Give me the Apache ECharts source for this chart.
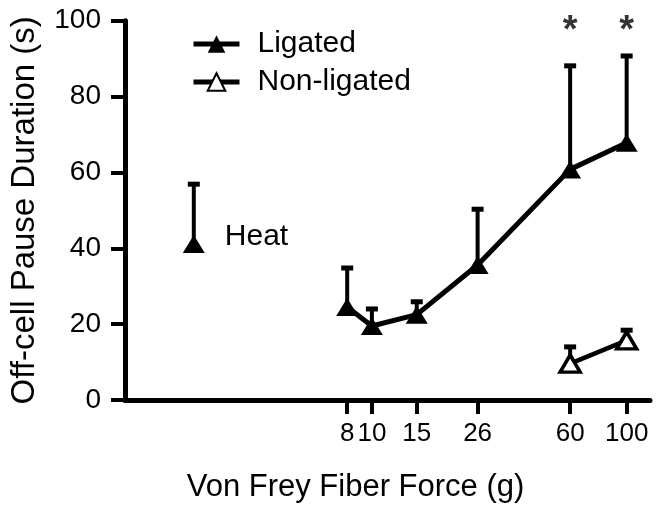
<!DOCTYPE html>
<html>
<head>
<meta charset="utf-8">
<script src="https://cdn.jsdelivr.net/npm/echarts@6/dist/echarts.min.js"></script>
<style>
  html, body { margin: 0; padding: 0; background: #fff; }
  #chart { width: 656px; height: 508px; }
</style>
</head>
<body>
<div id="chart"></div>
<script>
// force of the fiber (g), x axis is logarithmic
var forceTicks = [8, 10, 15, 26, 60, 100];

// ligated group: mean and upper end of the error bar
var ligForce = [8, 10, 15, 26, 60, 100];
var ligMean = [24.5, 19.5, 22.5, 35.6, 60.8, 67.8];
var ligTop = [34.8, 24.0, 25.9, 50.3, 88.1, 90.7];

// non-ligated group
var nonForce = [60, 100];
var nonMean = [9.6, 15.7];
var nonTop = [14.0, 18.4];

// heat response, drawn off to the left
var heatForce = [2];
var heatMean = [41.1];
var heatTop = [56.9];

// significance marks
var starForce = [60, 100];
var starY = [98, 98];

var yTicks = [0, 20, 40, 60, 80, 100];

var FONT = "'Liberation Sans', Arial, Helvetica, sans-serif";

function lg(v) { return Math.log(v) / Math.LN10; }

function pts(xs, ys) {
  return xs.map(function (x, i) { return [lg(x), ys[i]]; });
}
function errPts(xs, ys, tops) {
  return xs.map(function (x, i) { return [lg(x), ys[i], tops[i]]; });
}

// vertical error bar with a cap, only the upper half like the original
function renderErr(params, api) {
  var p = api.coord([api.value(0), api.value(1)]);
  var t = api.coord([api.value(0), api.value(2)]);
  return {
    type: 'group',
    children: [
      { type: 'line', shape: { x1: p[0], y1: p[1], x2: t[0], y2: t[1] },
        style: { stroke: '#000', lineWidth: 4 } },
      { type: 'line', shape: { x1: t[0] - 6, y1: t[1], x2: t[0] + 6, y2: t[1] },
        style: { stroke: '#000', lineWidth: 5 } }
    ]
  };
}

var chart = echarts.init(document.getElementById('chart'));

chart.setOption({
  animation: false,
  backgroundColor: '#fff',
  textStyle: { fontFamily: FONT, color: '#000' },
  grid: { left: 124, right: 6, top: 20.7, bottom: 106.3, containLabel: false },
  legend: {
    orient: 'vertical',
    left: 186,
    top: 22,
    itemWidth: 46,
    itemHeight: 22,
    itemGap: 4,
    data: ['Ligated', 'Non-ligated'],
    lineStyle: { width: 5 },
    textStyle: { fontSize: 30, color: '#000', fontFamily: FONT, lineHeight: 34, padding: [0, 0, 0, 13] }
  },
  xAxis: {
    type: 'value',
    min: 0.031,
    max: 2.0916,
    name: 'Von Frey Fiber Force (g)',
    nameLocation: 'middle',
    nameGap: 72,
    nameTextStyle: { fontSize: 31, color: '#000', fontFamily: FONT, padding: [0, 64, 0, 0] },
    splitLine: { show: false },
    axisLine: { lineStyle: { color: '#000', width: 5 } },
    axisTick: {
      length: 14,
      lineStyle: { color: '#000', width: 4 },
      customValues: forceTicks.map(lg)
    },
    axisLabel: {
      fontSize: 26,
      color: '#000',
      margin: 21,
      customValues: forceTicks.map(lg),
      formatter: function (v) { return String(Math.round(Math.pow(10, v))); }
    }
  },
  yAxis: {
    type: 'value',
    min: 0,
    max: 100,
    interval: 20,
    name: 'Off-cell Pause Duration (s)',
    nameLocation: 'middle',
    nameGap: 84,
    nameTextStyle: { fontSize: 33, color: '#000', fontFamily: FONT },
    splitLine: { show: false },
    axisLine: { show: true, lineStyle: { color: '#000', width: 5 } },
    axisTick: { show: true, length: 14, lineStyle: { color: '#000', width: 4 } },
    axisLabel: { fontSize: 28, color: '#000', margin: 24 }
  },
  series: [
    {
      type: 'custom',
      name: 'errLig',
      renderItem: renderErr,
      data: errPts(ligForce, ligMean, ligTop),
      z: 1
    },
    {
      type: 'custom',
      name: 'errNon',
      renderItem: renderErr,
      data: errPts(nonForce, nonMean, nonTop),
      z: 1
    },
    {
      type: 'custom',
      name: 'errHeat',
      renderItem: renderErr,
      data: errPts(heatForce, heatMean, heatTop),
      z: 1
    },
    {
      type: 'line',
      name: 'Ligated',
      data: pts(ligForce, ligMean),
      symbol: 'triangle',
      symbolSize: [22, 18],
      lineStyle: { color: '#000', width: 5 },
      itemStyle: { color: '#000', borderColor: '#000', borderWidth: 0 },
      z: 3
    },
    {
      type: 'line',
      name: 'Non-ligated',
      data: pts(nonForce, nonMean),
      symbol: 'triangle',
      symbolSize: [20, 17],
      lineStyle: { color: '#000', width: 4.5 },
      itemStyle: { color: '#fff', borderColor: '#000', borderWidth: 3.5 },
      z: 3
    },
    {
      type: 'scatter',
      name: 'Heat',
      data: pts(heatForce, heatMean),
      symbol: 'triangle',
      symbolSize: [22, 18],
      itemStyle: { color: '#000', opacity: 1 },
      label: {
        show: true,
        position: 'right',
        distance: 20,
        offset: [0, -7],
        formatter: 'Heat',
        fontSize: 30,
        color: '#000',
        fontFamily: FONT
      },
      z: 3
    },
    {
      type: 'scatter',
      name: 'stars',
      data: pts(starForce, starY),
      symbol: 'circle',
      symbolSize: 1,
      itemStyle: { color: 'rgba(0,0,0,0)' },
      label: {
        show: true,
        position: 'inside',
        formatter: '*',
        fontSize: 38,
        fontWeight: 'bold',
        color: '#000',
        fontFamily: FONT,
        offset: [0, 3]
      },
      z: 3
    }
  ]
});
</script>
</body>
</html>
